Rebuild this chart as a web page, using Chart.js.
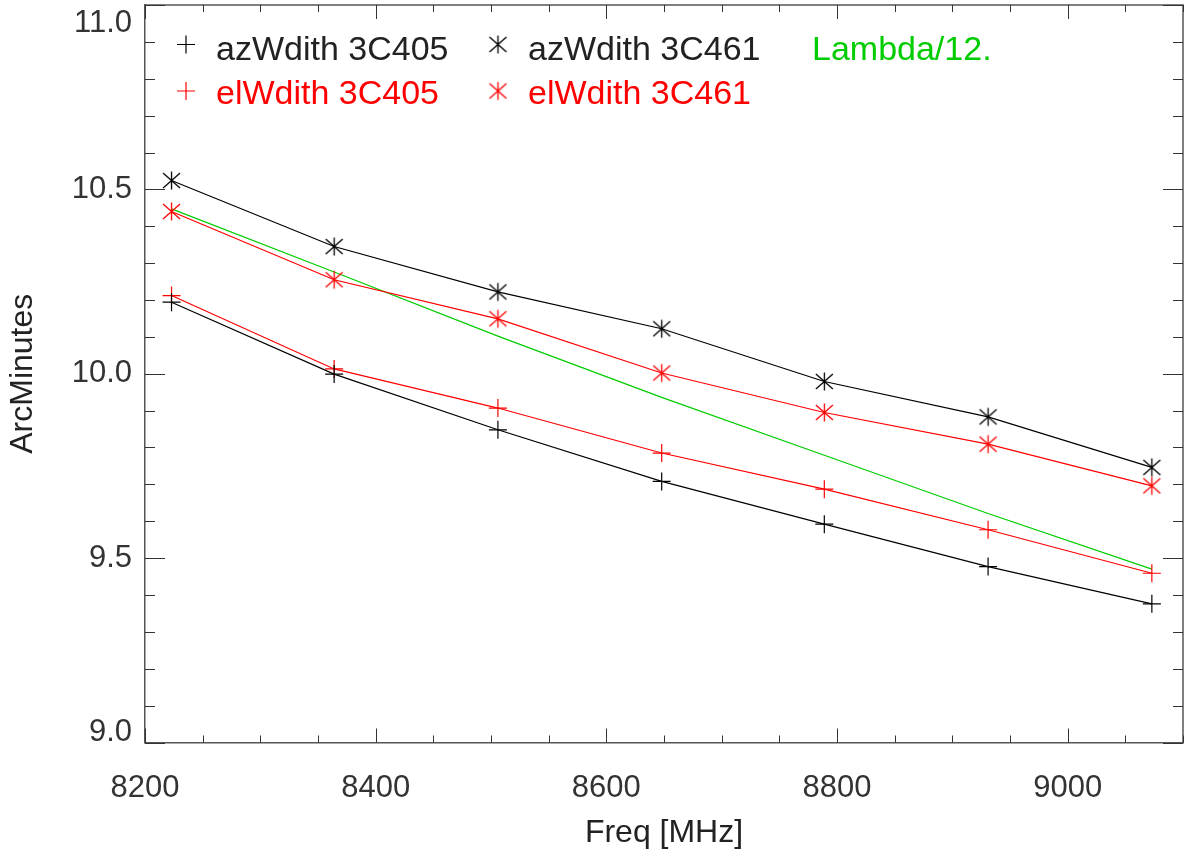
<!DOCTYPE html>
<html>
<head>
<meta charset="utf-8">
<title>Beam width vs frequency</title>
<script src="https://cdn.jsdelivr.net/npm/chart.js@4.4.1/dist/chart.umd.min.js"></script>
<style>
  html, body { margin: 0; padding: 0; background: #fff; }
  #wrap { width: 1186px; height: 861px; }
</style>
</head>
<body>
<div id="wrap"><canvas id="chart" width="1186" height="861"></canvas></div>
<script>
// values
const freq = [8223, 8364, 8506, 8648, 8789, 8931, 9073];
const azWdith3C405 = [10.194, 9.999, 9.848, 9.708, 9.592, 9.477, 9.376];
const elWdith3C405 = [10.212, 10.013, 9.907, 9.785, 9.687, 9.577, 9.459];
const azWdith3C461 = [10.524, 10.345, 10.222, 10.122, 9.979, 9.883, 9.746];
const elWdith3C461 = [10.440, 10.255, 10.149, 10.002, 9.895, 9.809, 9.696];
const lambda12 = [10.447, 10.276, 10.102, 9.936, 9.779, 9.621, 9.470];

const xTickValues = [8200, 8400, 8600, 8800, 9000];
const xTickLabels = ['8200', '8400', '8600', '8800', '9000'];
const yTickValues = [9.0, 9.5, 10.0, 10.5, 11.0];
const yTickLabels = ['9.0', '9.5', '10.0', '10.5', '11.0'];

const FONT = 'Liberation Sans';
Chart.defaults.font.family = FONT;

// IDL style asterisk (vertical bar + X)
function asterisk(color) {
  const c = document.createElement('canvas');
  c.width = 21; c.height = 21;
  const g = c.getContext('2d');
  g.strokeStyle = color;
  g.lineWidth = 1.3;
  g.beginPath();
  g.moveTo(10.5, 1.5); g.lineTo(10.5, 19.5);
  g.moveTo(2, 3); g.lineTo(19, 18);
  g.moveTo(19, 3); g.lineTo(2, 18);
  g.stroke();
  return c;
}
const starBlack = asterisk('#000');
const starRed = asterisk('#ff0000');

function series(label, values, color, style) {
  return {
    label,
    data: freq.map((f, i) => ({ x: f, y: values[i] })),
    borderColor: color,
    backgroundColor: color,
    borderWidth: 1.2,
    pointStyle: style || 'circle',
    pointRadius: style ? 9 : 0,
    pointHoverRadius: style ? 9 : 0,
    pointBorderWidth: 1.2,
    tension: 0
  };
}

// inward ticks on all four sides + top/right frame
const frameTicks = {
  id: 'frameTicks',
  beforeDatasetsDraw(chart) {
    const { ctx, chartArea: a, scales: { x, y } } = chart;
    ctx.save();
    ctx.strokeStyle = '#555';
    ctx.lineWidth = 1.5;
    ctx.beginPath();
    ctx.moveTo(a.left, a.top);
    ctx.lineTo(a.right, a.top);
    ctx.lineTo(a.right, a.bottom);
    ctx.stroke();

    ctx.strokeStyle = '#333';
    ctx.lineWidth = 1;
    ctx.beginPath();
    for (let i = 0; i <= 18; i++) {
      const v = 8200 + i * 50;
      const px = Math.round(x.getPixelForValue(v)) + 0.5;
      const len = i % 4 === 0 ? 14 : 7;
      ctx.moveTo(px, a.bottom); ctx.lineTo(px, a.bottom - len);
      ctx.moveTo(px, a.top); ctx.lineTo(px, a.top + len);
    }
    for (let i = 0; i <= 20; i++) {
      const v = 9 + i * 0.1;
      const py = Math.round(y.getPixelForValue(v)) + 0.5;
      const len = i % 5 === 0 ? 20 : 10;
      ctx.moveTo(a.left, py); ctx.lineTo(a.left + len, py);
      ctx.moveTo(a.right, py); ctx.lineTo(a.right - len, py);
    }
    ctx.stroke();
    ctx.restore();
  }
};

// legend drawn inside the plot, IDL style
const legendSpots = [
  { sx: 186, tx: 216, sy: 44.5, ty: 60 },
  { sx: 186, tx: 216, sy: 91, ty: 103.5 },
  { sx: 498, tx: 528, sy: 44.5, ty: 60 },
  { sx: 498, tx: 528, sy: 91, ty: 103.5 },
  { sx: null, tx: 812, sy: 44.5, ty: 60 }
];
const insideLegend = {
  id: 'insideLegend',
  afterDraw(chart) {
    const ctx = chart.ctx;
    ctx.save();
    ctx.font = '34px ' + FONT;
    ctx.textBaseline = 'alphabetic';
    chart.data.datasets.forEach((ds, i) => {
      const p = legendSpots[i];
      const color = ds.borderColor;
      if (p.sx !== null) {
        if (ds.pointStyle === 'cross') {
          ctx.strokeStyle = color;
          ctx.lineWidth = 1.2;
          ctx.beginPath();
          ctx.moveTo(p.sx - 9, p.sy); ctx.lineTo(p.sx + 9, p.sy);
          ctx.moveTo(p.sx, p.sy - 9); ctx.lineTo(p.sx, p.sy + 9);
          ctx.stroke();
        } else {
          const img = ds.pointStyle;
          ctx.drawImage(img, p.sx - img.width / 2, p.sy - img.height / 2);
        }
      }
      ctx.fillStyle = color === '#000' ? '#222' : color;
      ctx.fillText(ds.label, p.tx, p.ty);
    });
    ctx.restore();
  }
};

new Chart(document.getElementById('chart'), {
  type: 'line',
  data: {
    datasets: [
      series('azWdith 3C405', azWdith3C405, '#000', 'cross'),
      series('elWdith 3C405', elWdith3C405, '#ff0000', 'cross'),
      series('azWdith 3C461', azWdith3C461, '#000', starBlack),
      series('elWdith 3C461', elWdith3C461, '#ff0000', starRed),
      series('Lambda/12.', lambda12, '#00cc00', null)
    ]
  },
  options: {
    responsive: false,
    devicePixelRatio: 1,
    animation: false,
    layout: { autoPadding: false, padding: { left: 0, right: 3, top: 5, bottom: 0 } },
    plugins: { legend: { display: false }, tooltip: { enabled: false } },
    scales: {
      x: {
        type: 'linear',
        position: 'bottom',
        min: 8200,
        max: 9100,
        afterBuildTicks: s => { s.ticks = xTickValues.map(v => ({ value: v })); },
        afterFit: s => { s.height = 118.5; s.paddingLeft = 0; s.paddingRight = 0; },
        ticks: {
          callback: (v, i) => xTickLabels[i],
          font: { size: 31 },
          color: '#333',
          padding: 27,
          maxRotation: 0,
          autoSkip: false
        },
        grid: { drawOnChartArea: false, drawTicks: false },
        border: { display: true, color: '#555', width: 1.5 },
        title: {
          display: true,
          text: 'Freq [MHz]',
          font: { size: 32 },
          color: '#222',
          padding: { top: 0, bottom: 9 }
        }
      },
      y: {
        type: 'linear',
        min: 9,
        max: 11,
        afterBuildTicks: s => { s.ticks = yTickValues.map(v => ({ value: v })); },
        afterFit: s => { s.width = 145; s.paddingTop = 0; s.paddingBottom = 0; },
        ticks: {
          callback: (v, i) => {
            const t = yTickLabels[i];
            if (i === 0) return [t, ''];
            if (i === yTickLabels.length - 1) return ['', t];
            return t;
          },
          font: ctx => ({ size: 31, lineHeight: ctx.index === 0 ? 0.62 : 1.18 }),
          color: '#333',
          padding: 13,
          autoSkip: false
        },
        grid: { drawOnChartArea: false, drawTicks: false },
        border: { display: true, color: '#555', width: 1.5 },
        title: {
          display: true,
          text: 'ArcMinutes',
          font: { size: 32 },
          color: '#222',
          padding: { top: 4, bottom: 0 }
        }
      }
    }
  },
  plugins: [frameTicks, insideLegend]
});
</script>
</body>
</html>
